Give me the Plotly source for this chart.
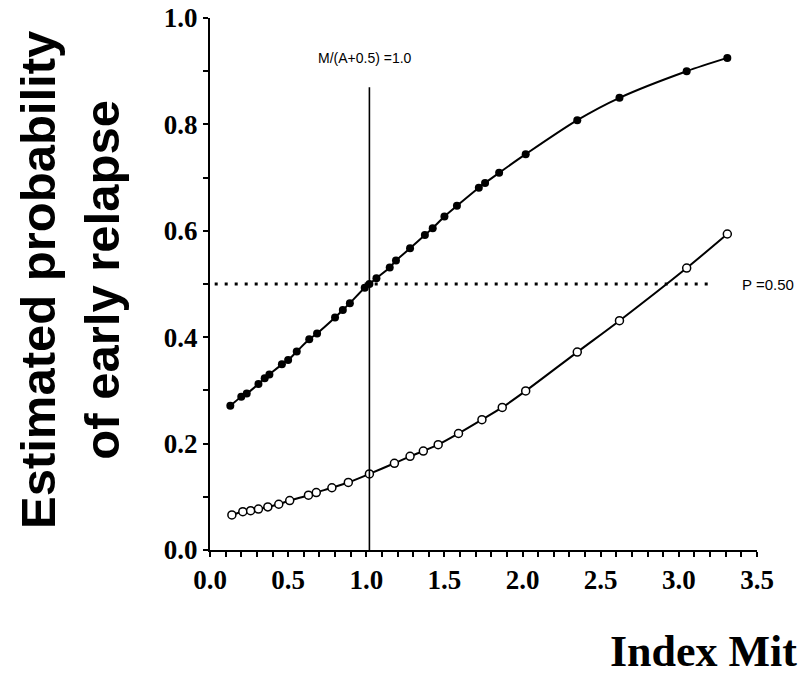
import plotly.graph_objects as go

# Estimated probability of early relapse versus mitotic index
# group with filled markers (upper curve)
upper_x = [0.13, 0.20, 0.235, 0.31, 0.35, 0.38, 0.46, 0.50, 0.555, 0.635, 0.685,
           0.80, 0.85, 0.895, 0.99, 1.02, 1.065, 1.15, 1.19, 1.28, 1.375, 1.425,
           1.50, 1.58, 1.72, 1.76, 1.85, 2.02, 2.35, 2.62, 3.05, 3.31]
upper_y = [0.271, 0.288, 0.294, 0.312, 0.323, 0.330, 0.349, 0.357, 0.373, 0.396, 0.407,
           0.437, 0.451, 0.464, 0.493, 0.500, 0.511, 0.531, 0.544, 0.567, 0.592, 0.605,
           0.627, 0.647, 0.681, 0.690, 0.709, 0.744, 0.808, 0.850, 0.900, 0.925]

# group with open markers (lower curve)
lower_x = [0.14, 0.21, 0.26, 0.31, 0.37, 0.44, 0.51, 0.63, 0.68, 0.78, 0.885,
           1.02, 1.18, 1.28, 1.365, 1.46, 1.59, 1.74, 1.87, 2.02, 2.35, 2.62, 3.05, 3.31]
lower_y = [0.066, 0.072, 0.074, 0.077, 0.081, 0.086, 0.093, 0.103, 0.108, 0.117, 0.127,
           0.143, 0.163, 0.176, 0.186, 0.198, 0.219, 0.245, 0.268, 0.299, 0.372, 0.431, 0.530, 0.594]

# reference lines
cut_x = 1.02          # M/(A+0.5) = 1.0
cut_top = 0.87
p_level = 0.50
p_line_x = [0.03, 3.21]

x_ticks = [0.0, 0.5, 1.0, 1.5, 2.0, 2.5, 3.0, 3.5]
y_ticks = [0.0, 0.2, 0.4, 0.6, 0.8, 1.0]

W, H = 798, 677
ML, MR, MT, MB = 210, 41, 18, 127
PW = W - ML - MR
PH = H - MT - MB

fig = go.Figure()

fig.add_trace(go.Scatter(
    x=upper_x, y=upper_y, mode="lines+markers",
    line=dict(color="black", width=2, shape="spline", smoothing=0.8),
    marker=dict(symbol="circle", size=8, color="black"),
    showlegend=False, cliponaxis=False,
))
fig.add_trace(go.Scatter(
    x=lower_x, y=lower_y, mode="lines+markers",
    line=dict(color="black", width=2, shape="spline", smoothing=0.8),
    marker=dict(symbol="circle", size=8, color="white",
                line=dict(color="black", width=1.5)),
    showlegend=False, cliponaxis=False,
))

# vertical cut-off line
fig.add_shape(type="line", xref="x", yref="y", x0=cut_x, x1=cut_x, y0=0, y1=cut_top,
              line=dict(color="black", width=1.6))
# dotted P = 0.50 line
fig.add_shape(type="line", xref="x", yref="y", x0=p_line_x[0], x1=p_line_x[1],
              y0=p_level, y1=p_level,
              line=dict(color="black", width=3, dash="3px,7px"))

fig.add_annotation(x=0.99, y=0.925, xref="x", yref="y", text="M/(A+0.5) =1.0",
                   showarrow=False, xanchor="center", yanchor="middle",
                   font=dict(family="Liberation Sans, Arial", size=14, color="black"))
fig.add_annotation(x=3.39, y=p_level, xref="x", yref="y", text="P =0.50",
                   showarrow=False, xanchor="left", yanchor="middle",
                   font=dict(family="Liberation Sans, Arial", size=15, color="black"))

# axis titles
fig.add_annotation(x=(70 - ML) / PW, y=(550 - 280) / PH, xref="paper", yref="paper",
                   text="Estimated probability<br>of early relapse", textangle=-90,
                   showarrow=False, xanchor="center", yanchor="middle", align="center",
                   font=dict(family="Liberation Sans, Arial", size=49, color="black",
                             weight="bold"))
fig.add_annotation(x=(608 - ML) / PW, y=(550 - 651) / PH, xref="paper", yref="paper",
                   text="Index Mit", showarrow=False, xanchor="left", yanchor="middle",
                   font=dict(family="Liberation Serif, Times New Roman", size=44,
                             color="black", weight="bold"))

tick_font = dict(family="Liberation Serif, Times New Roman", size=27, color="black",
                 weight="bold")

fig.update_xaxes(
    range=[0, 3.5], tickvals=x_ticks, ticktext=[f"{v:.1f}" for v in x_ticks],
    showline=True, linecolor="black", linewidth=2, showgrid=False, zeroline=False,
    ticks="outside", ticklen=5, tickwidth=2, tickcolor="black", tickfont=tick_font,
    minor=dict(dtick=0.1, tick0=0, ticks="outside", ticklen=5, tickwidth=2,
               tickcolor="black", showgrid=False),
)
fig.update_yaxes(
    range=[0, 1.0], tickvals=y_ticks, ticktext=[f"{v:.1f}" for v in y_ticks],
    showline=True, linecolor="black", linewidth=2, showgrid=False, zeroline=False,
    ticks="outside", ticklen=5, tickwidth=2, tickcolor="black", tickfont=tick_font,
    minor=dict(dtick=0.1, tick0=0, ticks="outside", ticklen=5, tickwidth=2,
               tickcolor="black", showgrid=False),
)

fig.update_layout(
    width=W, height=H,
    margin=dict(l=ML, r=MR, t=MT, b=MB, autoexpand=False),
    plot_bgcolor="white", paper_bgcolor="white",
)

fig.write_html("out.html")
